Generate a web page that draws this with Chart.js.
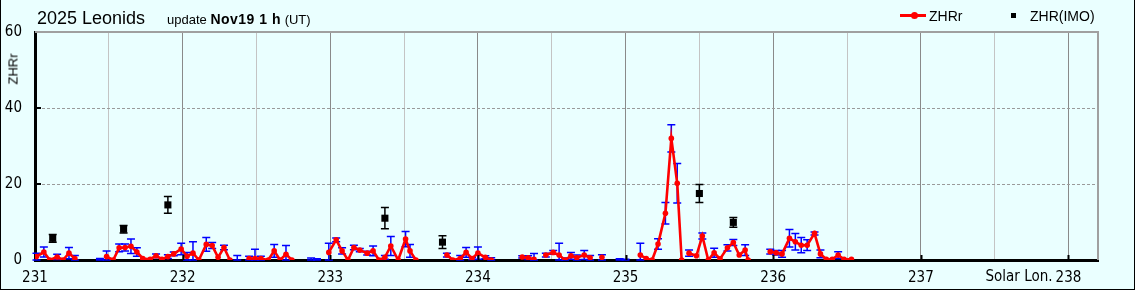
<!DOCTYPE html>
<html>
<head>
<meta charset="utf-8">
<script src="https://cdn.jsdelivr.net/npm/chart.js@4"></script>
<style>
  html, body { margin: 0; padding: 0; background: #eaffff; }
  #wrap { position: relative; width: 1135px; height: 290px; background: #eaffff; overflow: hidden; }
  #chart { position: absolute; left: 0; top: 0; }
  #frame { position: absolute; left: 0; top: 0; width: 1135px; height: 290px; box-sizing: border-box;
           border: 1px solid #000; border-top: none; pointer-events: none; }
  .txt { position: absolute; font-family: "Liberation Sans", Arial, sans-serif; color: #000; white-space: nowrap; }
  #title { left: 37px; top: 8px; font-size: 18px; }
  #upd { left: 167px; top: 11px; font-size: 13px; }
  #upd b { font-size: 14px; letter-spacing: 0.5px; }
  #ytitle { left: 13px; top: 69px; font-size: 13px; transform: translate(-50%, -50%) rotate(-90deg); }
  #lg1line { position: absolute; left: 900px; top: 14px; width: 26px; height: 3px; background: #ff0000; }
  #lg1dot { position: absolute; left: 911px; top: 12px; width: 7px; height: 7px; border-radius: 50%; background: #ff0000; }
  #lg1 { left: 929px; top: 8px; font-size: 14px; }
  #lg2sq { position: absolute; left: 1011px; top: 13px; width: 5px; height: 5px; background: #000; }
  #lg2 { left: 1030px; top: 8px; font-size: 14px; }
</style>
</head>
<body>
<div id="wrap">
  <canvas id="chart" width="1135" height="290"></canvas>
  <div class="txt" id="title">2025 Leonids</div>
  <div class="txt" id="upd">update <b>Nov19 1 h</b> (UT)</div>
  <div class="txt" id="ytitle">ZHRr</div>
  <div id="lg1line"></div><div id="lg1dot"></div>
  <div class="txt" id="lg1">ZHRr</div>
  <div id="lg2sq"></div>
  <div class="txt" id="lg2">ZHR(IMO)</div>
  <div id="frame"></div>
</div>
<script>
/* ---- data ---- */
// ZHRr (red line), null = gap in the record
const lon = [231.01, 231.06, 231.10, 231.15, 231.19, 231.23, 231.27, 231.31,
  231.485, 231.53, 231.57, 231.61, 231.65, 231.69, 231.73, 231.78, 231.82, 231.86, 231.90, 231.94,
  231.99, 232.03, 232.07, 232.11, 232.16, 232.20, 232.24, 232.28, 232.32, 232.34,
  232.45, 232.49, 232.53, 232.58, 232.62, 232.66, 232.70, 232.74, 232.80,
  232.99, 233.04, 233.08, 233.12, 233.16, 233.20, 233.25, 233.29, 233.33, 233.37, 233.41,
  233.46, 233.51, 233.54, 233.58, 233.65,
  233.79, 233.83, 233.88, 233.92, 233.96, 234.00, 234.05, 234.09, 234.15,
  234.30, 234.34, 234.38, 234.42,
  234.46, 234.51, 234.55, 234.59, 234.63, 234.67, 234.72, 234.76, 234.80, 234.84, 234.88,
  235.10, 235.14, 235.18, 235.22, 235.27, 235.31, 235.35, 235.38, 235.40,
  235.43, 235.48, 235.52, 235.56, 235.60, 235.64, 235.69, 235.73, 235.77, 235.81, 235.83, 235.90,
  235.98, 236.02, 236.06, 236.11, 236.15, 236.19, 236.23, 236.28, 236.32, 236.36, 236.40,
  236.44, 236.48, 236.53];
const zhr = [0.9, 2.1, 0, 0.8, 0, 1.8, 0.4, null,
  0.9, 0, 3.2, 3.3, 3.6, 2.1, 0.4, 0.2, 1.1, 0.2, 0.9, 1.6,
  2.9, 1.0, 1.8, 0, 4.1, 3.8, 0.7, 3.3, 0, null,
  0.4, 0.4, 0.4, 0, 2.4, 0, 1.5, 0, null,
  2.0, 5.3, 2.4, 0, 3.3, 2.6, 1.8, 2.4, 0, 0.7, 3.7,
  0, 5.5, 2.4, 0, null,
  1.3, 0, 0.4, 2.0, 0.4, 1.8, 0.7, 0, null,
  0.8, 0.6, 0.2, null,
  1.3, 2.0, 1.3, 0, 1.1, 0.6, 1.3, 0.6, null, 0.7, null,
  1.3, 0.4, 0, 4.2, 12.3, 32.0, 20.2, 0, null,
  1.8, 1.1, 6.3, 0, 1.9, 0.3, 3.2, 4.6, 1.3, 2.6, 0, null,
  2.2, 1.9, 1.6, 5.7, 4.8, 3.9, 3.9, 7.0, 1.6, 0.2, 0.2,
  1.3, 0.2, 0.2];
const zhrErr = [0.9, 1.3, 0, 0.7, 0, 1.5, 0.8, 0,
  1.5, 0, 1.0, 0.9, 1.9, 1.1, 0, 0, 0.5, 0, 0.5, 0.5,
  1.5, 1.0, 3.0, 0, 1.8, 0.8, 0, 0.6, 0, 0,
  0.6, 2.4, 0.6, 0, 1.7, 0, 2.3, 0, 0,
  2.4, 0.5, 0.8, 0, 0.6, 0.4, 0.5, 1.3, 0, 0.5, 2.5,
  0, 2.0, 1.7, 0, 0,
  0.5, 0, 0.8, 1.3, 0.3, 1.6, 0.4, 0.6, 0,
  0.3, 0.5, 1.5, 0,
  0.5, 0.5, 3.1, 0.5, 0.9, 0.7, 1.2, 0.6, 0, 0.7, 0,
  3.1, 0, 0, 1.4, 2.8, 3.6, 5.2, 0, 0,
  0.8, 0, 0.8, 0, 1.2, 0, 0.8, 0.8, 0, 1.4, 0, 0,
  0.6, 0.6, 0.9, 2.3, 2.2, 2.0, 1.4, 0.4, 1.0, 0, 0,
  0.9, 0, 0];
// intervals with no meteors: error bar only
const zeroLon = [231.44, 232.37, 232.87, 232.91, 234.96, 235.00];
const zeroErr = [0.4, 1.2, 0.5, 0.3, 0.3, 0.2];
// ZHR(IMO)
const imoLon = [231.12, 231.60, 231.90, 233.37, 233.76, 235.50, 235.73];
const imoZhr = [5.7, 8.1, 14.5, 11.0, 4.7, 17.5, 9.9];
const imoErr = [1.0, 1.0, 2.2, 2.8, 1.7, 2.4, 1.3];
// axes
const xMin = 231, xMax = 238.2;
const yMin = 0, yMax = 60;

const tickFont = { family: "'Liberation Sans Narrow', 'DejaVu Sans Condensed', sans-serif", size: 15 };

/* ---- error bars, inner ticks, frame ---- */
const decorations = {
  id: 'decorations',
  beforeDatasetsDraw(chart) {
    const { ctx, scales: { x, y } } = chart;
    function bar(L, v, e, color) {
      if (v === null || e <= 0) return;
      const px = x.getPixelForValue(L);
      const top = y.getPixelForValue(v + e);
      const bot = y.getPixelForValue(Math.max(0, v - e));
      ctx.strokeStyle = color;
      ctx.beginPath();
      ctx.moveTo(px, top); ctx.lineTo(px, bot);
      ctx.moveTo(px - 4, top); ctx.lineTo(px + 4, top);
      ctx.moveTo(px - 4, bot); ctx.lineTo(px + 4, bot);
      ctx.stroke();
    }
    ctx.save();
    ctx.lineWidth = 1.5;
    lon.forEach((L, i) => bar(L, zhr[i], zhrErr[i], '#0000ff'));
    zeroLon.forEach((L, i) => bar(L, 0, zeroErr[i], '#0000ff'));
    imoLon.forEach((L, i) => bar(L, imoZhr[i], imoErr[i], '#000000'));
    ctx.restore();
  },
  afterDraw(chart) {
    const { ctx, chartArea: a, scales: { x, y } } = chart;
    ctx.save();
    // gray top / right frame of the plot
    ctx.strokeStyle = '#a0a0a0';
    ctx.lineWidth = 2;
    ctx.beginPath();
    ctx.moveTo(a.left, a.top); ctx.lineTo(a.right, a.top); ctx.lineTo(a.right, a.bottom);
    ctx.stroke();
    // inner tick marks
    ctx.strokeStyle = '#000';
    ctx.lineWidth = 2;
    ctx.beginPath();
    for (let v = 232; v <= 238; v++) {
      const px = Math.round(x.getPixelForValue(v)) + 0.5;
      ctx.moveTo(px, a.bottom); ctx.lineTo(px, a.bottom - 5);
    }
    for (let v = 20; v <= 40; v += 20) {
      const py = Math.round(y.getPixelForValue(v));
      ctx.moveTo(a.left, py); ctx.lineTo(a.left + 6, py);
    }
    ctx.stroke();
    // axis name before the last label
    ctx.fillStyle = '#000';
    ctx.font = `${tickFont.size}px ${tickFont.family}`;
    ctx.textAlign = 'right';
    ctx.textBaseline = 'top';
    ctx.fillText('Solar Lon.', x.getPixelForValue(238) - 16, a.bottom + 10);
    ctx.restore();
  }
};

new Chart(document.getElementById('chart'), {
  type: 'scatter',
  data: {
    datasets: [{
      label: 'ZHRr',
      data: lon.map((L, i) => ({ x: L, y: zhr[i] })),
      showLine: true,
      spanGaps: false,
      borderColor: '#ff0000',
      backgroundColor: '#ff0000',
      borderWidth: 2.6,
      pointRadius: 2.8,
      pointBorderWidth: 0,
      tension: 0
    }, {
      label: 'ZHR(IMO)',
      data: imoLon.map((L, i) => ({ x: L, y: imoZhr[i] })),
      showLine: false,
      pointStyle: 'rect',
      pointRadius: 5,
      pointBorderWidth: 0,
      backgroundColor: '#000',
      borderColor: '#000'
    }]
  },
  options: {
    responsive: false,
    animation: false,
    layout: { padding: { left: 0, top: 32, right: 37, bottom: 0 } },
    plugins: { legend: { display: false }, tooltip: { enabled: false } },
    scales: {
      x: {
        type: 'linear',
        min: xMin, max: xMax,
        afterFit: s => { s.height = 30; },
        grid: {
          drawTicks: false,
          lineWidth: 1,
          color: c => (c.tick && c.tick.value % 1 === 0) ? '#8a8a8a' : '#c4c4c4'
        },
        border: { color: '#000', width: 3 },
        ticks: {
          stepSize: 0.5,
          includeBounds: false,
          autoSkip: false,
          maxRotation: 0,
          padding: 9,
          color: '#000',
          font: tickFont,
          callback: v => (v % 1 === 0 ? String(v) : '')
        }
      },
      y: {
        min: yMin, max: yMax,
        afterFit: s => { s.width = 35; },
        grid: {
          drawTicks: false,
          lineWidth: 1,
          color: c => (c.tick && (c.tick.value === 20 || c.tick.value === 40)) ? '#9a9a9a' : 'rgba(0,0,0,0)'
        },
        border: { color: '#000', width: 3, dash: [3, 2] },
        ticks: {
          stepSize: 20,
          padding: 13,
          color: '#000',
          font: tickFont
        }
      }
    }
  },
  plugins: [decorations]
});
</script>
</body>
</html>
